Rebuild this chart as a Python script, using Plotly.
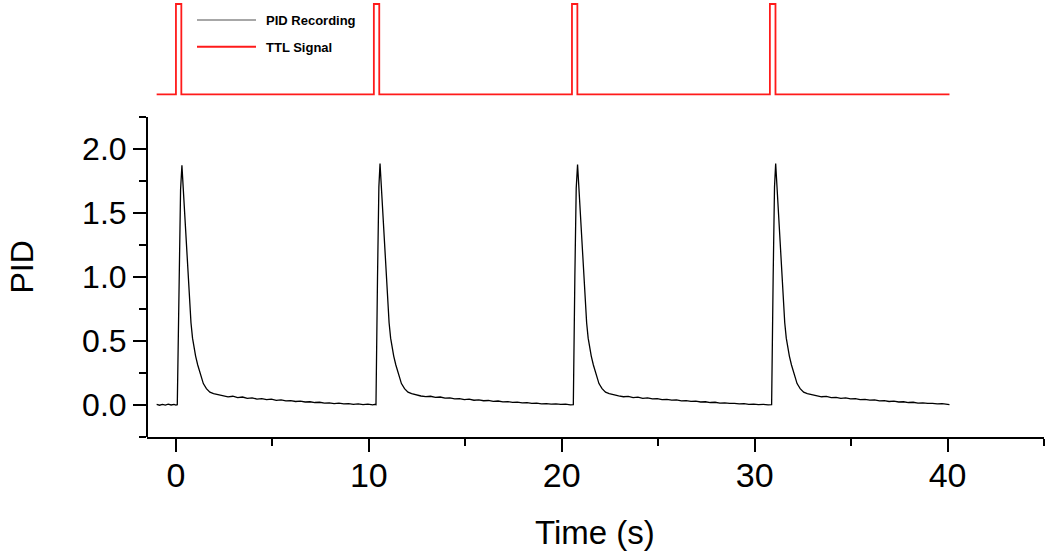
import plotly.graph_objects as go

# ---------------- data ----------------
# PID recording, cycle by cycle (time in s, PID signal)
pid_t1 = [-1.0, -0.85, -0.7, -0.55, -0.4, -0.25, -0.1, 0.0,
          0.07, 0.16, 0.24, 0.31,
          0.36, 0.41, 0.50, 0.59, 0.69, 0.78, 0.86, 0.94, 1.02, 1.13, 1.24, 1.33, 1.42, 1.58, 1.76, 1.95, 2.19,
          2.45, 2.7, 2.95, 3.2, 3.45, 3.7, 3.95, 4.2, 4.45, 4.7, 4.95, 5.2, 5.45, 5.7, 5.95, 6.2,
          6.45, 6.7, 6.95, 7.2, 7.45, 7.7, 7.95, 8.2, 8.45, 8.7, 8.95, 9.2, 9.45, 9.7, 9.95, 10.2,
          10.3]
pid_v1 = [0.003, -0.004, 0.002, -0.003, 0.004, -0.002, 0.003, -0.003,
          0.0, 1.0, 1.68, 1.87,
          1.74, 1.58, 1.32, 1.06, 0.80, 0.64, 0.52, 0.44, 0.38, 0.31, 0.25, 0.20, 0.165, 0.125, 0.098, 0.087, 0.077,
          0.070, 0.061, 0.066, 0.055, 0.060, 0.049, 0.054, 0.044, 0.048, 0.039, 0.043, 0.034, 0.037, 0.030, 0.032, 0.025,
          0.028, 0.021, 0.023, 0.017, 0.019, 0.013, 0.015, 0.009, 0.012, 0.006, 0.009, 0.003, 0.006, 0.001, 0.004, -0.002,
          0.002]

pid_t2 = [10.37, 10.45, 10.52, 10.58, 10.63, 10.68, 10.77, 10.86, 10.96, 11.05, 11.13, 11.21, 11.29, 11.40,
          11.51, 11.60, 11.69, 11.85, 12.03, 12.22, 12.46,
          12.7, 12.95, 13.2, 13.45, 13.7, 13.95, 14.2, 14.45, 14.7, 14.95, 15.2, 15.45, 15.7, 15.95, 16.2, 16.45,
          16.7, 16.95, 17.2, 17.45, 17.7, 17.95, 18.2, 18.45, 18.7, 18.95, 19.2, 19.45, 19.7, 19.95, 20.2, 20.45,
          20.55]
pid_v2 = [0.0, 1.0, 1.70, 1.885, 1.75, 1.59, 1.33, 1.07, 0.81, 0.64, 0.52, 0.44, 0.38, 0.31,
          0.25, 0.20, 0.165, 0.125, 0.098, 0.087, 0.077,
          0.068, 0.063, 0.066, 0.057, 0.060, 0.051, 0.054, 0.046, 0.048, 0.040, 0.043, 0.035, 0.038, 0.031, 0.033, 0.026,
          0.029, 0.022, 0.024, 0.018, 0.020, 0.014, 0.016, 0.010, 0.012, 0.007, 0.009, 0.004, 0.006, 0.002, 0.004, -0.001,
          0.0]

pid_t3 = [20.60, 20.68, 20.75, 20.82, 20.87, 20.92, 21.01, 21.10, 21.20, 21.29, 21.37, 21.45, 21.53, 21.64,
          21.75, 21.84, 21.93, 22.09, 22.27, 22.46, 22.70,
          22.95, 23.2, 23.45, 23.7, 23.95, 24.2, 24.45, 24.7, 24.95, 25.2, 25.45, 25.7, 25.95, 26.2, 26.45, 26.7,
          26.95, 27.2, 27.45, 27.7, 27.95, 28.2, 28.45, 28.7, 28.95, 29.2, 29.45, 29.7, 29.95, 30.2, 30.45, 30.7,
          30.82]
pid_v3 = [0.0, 1.0, 1.69, 1.877, 1.74, 1.58, 1.32, 1.06, 0.80, 0.64, 0.52, 0.44, 0.38, 0.31,
          0.25, 0.20, 0.165, 0.125, 0.098, 0.087, 0.076,
          0.069, 0.062, 0.065, 0.056, 0.059, 0.050, 0.053, 0.045, 0.047, 0.040, 0.042, 0.035, 0.037, 0.030, 0.032, 0.026,
          0.028, 0.021, 0.023, 0.017, 0.019, 0.013, 0.015, 0.010, 0.011, 0.006, 0.008, 0.003, 0.005, 0.001, 0.003, -0.002,
          0.0]

pid_t4 = [30.88, 30.96, 31.03, 31.09, 31.14, 31.19, 31.28, 31.37, 31.47, 31.56, 31.64, 31.72, 31.80, 31.91,
          32.02, 32.11, 32.20, 32.36, 32.54, 32.73, 32.97,
          33.22, 33.47, 33.72, 33.97, 34.22, 34.47, 34.72, 34.97, 35.22, 35.47, 35.72, 35.97, 36.22, 36.47,
          36.72, 36.97, 37.22, 37.47, 37.72, 37.97, 38.22, 38.47, 38.72, 38.97, 39.22, 39.47, 39.72, 39.97,
          40.1]
pid_v4 = [0.0, 1.0, 1.70, 1.885, 1.75, 1.59, 1.33, 1.07, 0.81, 0.64, 0.52, 0.44, 0.38, 0.31,
          0.25, 0.20, 0.165, 0.125, 0.098, 0.087, 0.077,
          0.068, 0.062, 0.065, 0.056, 0.058, 0.050, 0.053, 0.045, 0.047, 0.040, 0.042, 0.035, 0.037, 0.030,
          0.032, 0.025, 0.028, 0.021, 0.023, 0.017, 0.019, 0.013, 0.015, 0.010, 0.011, 0.006, 0.008, 0.004,
          0.001]

# TTL signal (0 = low, 1 = high)
ttl_t = [-1.0, 0.0, 0.0, 0.28, 0.28, 10.26, 10.26, 10.54, 10.54, 20.53, 20.53, 20.81, 20.81,
         30.79, 30.79, 31.08, 31.08, 40.1]
ttl_v = [0, 0, 1, 1, 0, 0, 1, 1, 0, 0, 1, 1, 0, 0, 1, 1, 0, 0]

x_ticks = [0, 10, 20, 30, 40]
y_ticks = [0.0, 0.5, 1.0, 1.5, 2.0]
y_ticklabels = ["0.0", "0.5", "1.0", "1.5", "2.0"]

pid_t = pid_t1 + pid_t2 + pid_t3 + pid_t4
pid_v = pid_v1 + pid_v2 + pid_v3 + pid_v4
assert len(pid_t) == len(pid_v)

# ---------------- figure ----------------
W, H = 1050, 556
FONT = "Liberation Sans, Arial, sans-serif"


def px(x):
    return x / W


def py(y):
    return (H - y) / H


fig = go.Figure()
fig.add_trace(go.Scatter(x=pid_t, y=pid_v, mode="lines", name="PID Recording",
                         line=dict(color="black", width=1.3), xaxis="x", yaxis="y",
                         showlegend=False))
fig.add_trace(go.Scatter(x=ttl_t, y=ttl_v, mode="lines", name="TTL Signal",
                         line=dict(color="#ff1a1a", width=1.8), xaxis="x2", yaxis="y2",
                         showlegend=False))

xdom = [px(147), px(1044)]

fig.update_layout(
    width=W, height=H,
    margin=dict(l=0, r=0, t=0, b=0),
    paper_bgcolor="white", plot_bgcolor="white",
    font=dict(family=FONT, color="black"),
    showlegend=False,
    xaxis=dict(domain=xdom, range=[-1.5, 45], anchor="y",
               showline=True, linecolor="black", linewidth=2,
               ticks="outside", ticklen=13, tickwidth=2, tickcolor="black",
               tickvals=x_ticks, tickfont=dict(size=34, family=FONT), ticklabelstandoff=-6,
               minor=dict(tickvals=[5, 15, 25, 35, 45], ticks="outside", ticklen=7,
                          tickwidth=2, tickcolor="black"),
               showgrid=False, zeroline=False, fixedrange=True),
    yaxis=dict(domain=[py(436.7), py(116.7)], range=[-0.25, 2.25], anchor="free", position=px(147),
               showline=True, linecolor="black", linewidth=2,
               ticks="outside", ticklen=13, tickwidth=2, tickcolor="black",
               tickvals=y_ticks, ticktext=y_ticklabels, tickfont=dict(size=32, family=FONT),
               minor=dict(tickvals=[-0.25, 0.25, 0.75, 1.25, 1.75, 2.25], ticks="outside", ticklen=7,
                          tickwidth=2, tickcolor="black"),
               showgrid=False, zeroline=False, fixedrange=True),
    xaxis2=dict(domain=xdom, range=[-1.5, 45], anchor="y2", visible=False, fixedrange=True),
    yaxis2=dict(domain=[py(96.1), py(2.2)], range=[-0.02, 1.02], anchor="x2", visible=False,
                fixedrange=True),
)

# legend drawn by hand (Origin-style)
fig.add_shape(type="line", xref="paper", yref="paper", x0=px(197), x1=px(256), y0=py(20), y1=py(20),
              line=dict(color="#8a8a8a", width=1.5))
fig.add_shape(type="line", xref="paper", yref="paper", x0=px(197), x1=px(256), y0=py(46.7), y1=py(46.7),
              line=dict(color="#ff1a1a", width=2))
fig.add_annotation(text="<b>PID Recording</b>", xref="paper", yref="paper", x=px(264), y=py(20.5),
                   xanchor="left", yanchor="middle", showarrow=False, font=dict(size=13, family=FONT))
fig.add_annotation(text="<b>TTL Signal</b>", xref="paper", yref="paper", x=px(264), y=py(47),
                   xanchor="left", yanchor="middle", showarrow=False, font=dict(size=13, family=FONT))

# axis titles
fig.add_annotation(text="Time (s)", xref="paper", yref="paper", x=px(595), y=py(532),
                   xanchor="center", yanchor="middle", showarrow=False, font=dict(size=33, family=FONT))
fig.add_annotation(text="PID", xref="paper", yref="paper", x=px(21), y=py(267.5), textangle=-90,
                   xanchor="center", yanchor="middle", showarrow=False, font=dict(size=32, family=FONT))

fig.write_html("out.html", config={"displayModeBar": False},
               post_script="document.body.style.margin='0px';")
